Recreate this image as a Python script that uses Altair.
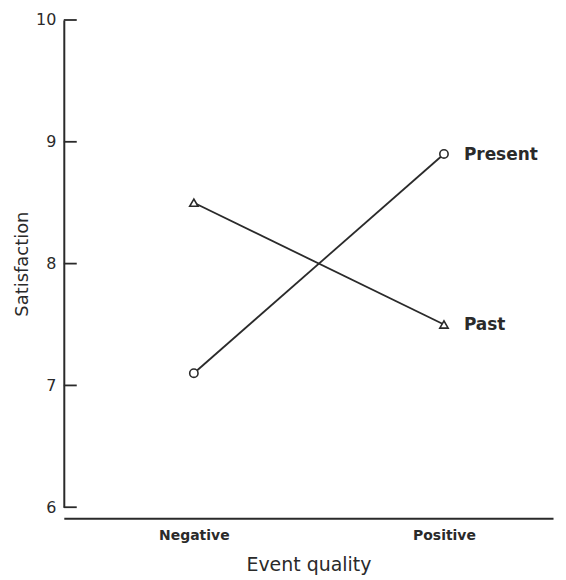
import altair as alt
import pandas as pd

categories = ["Negative", "Positive"]
present = [7.1, 8.9]
past = [8.5, 7.5]
series_names = ["Present", "Past"]
y_ticks = [6, 7, 8, 9, 10]

rows = []
for name, vals in zip(series_names, [present, past]):
    for i, (c, v) in enumerate(zip(categories, vals)):
        rows.append({"quality": c, "idx": i, "satisfaction": v, "series": name})
df = pd.DataFrame(rows)
ticks_df = pd.DataFrame({"t": y_ticks})

FONT = "DejaVu Sans"
INK = "#2a2a2a"

label_expr = " : ".join(
    [f"datum.value == {i} ? '{c}'" for i, c in enumerate(categories[:-1])] + [f"'{categories[-1]}'"]
)

xscale = alt.Scale(domain=[-0.52, 1.436], nice=False, zero=False)
yscale = alt.Scale(domain=[6, 10], nice=False, zero=False)

x_enc = alt.X("idx:Q", scale=xscale,
              axis=alt.Axis(title="Event quality", values=list(range(len(categories))),
                            labelExpr=label_expr, labelAngle=0, ticks=False, grid=False,
                            offset=11, labelPadding=10, titlePadding=14,
                            labelFontSize=14, labelFontWeight="bold",
                            titleFontSize=19, titleFontWeight="normal",
                            domainColor=INK, domainWidth=2,
                            labelColor=INK, titleColor=INK,
                            labelFont=FONT, titleFont=FONT))
y_enc = alt.Y("satisfaction:Q", scale=yscale,
              axis=alt.Axis(title="Satisfaction", values=y_ticks, ticks=False, format="d",
                            labelPadding=8, titlePadding=4,
                            labelFontSize=16, titleFontSize=18,
                            titleFontWeight="normal",
                            domainColor=INK, domainWidth=2,
                            labelColor=INK, titleColor=INK,
                            labelFont=FONT, titleFont=FONT, grid=False))

base = alt.Chart(df)

lines = base.mark_line(color=INK, strokeWidth=1.8).encode(
    x=x_enc, y=y_enc, detail="series:N")

pts = base.mark_point(filled=True, fill="white", stroke=INK, strokeWidth=1.6, size=70, opacity=1).encode(
    x="idx:Q", y="satisfaction:Q",
    shape=alt.Shape("series:N", scale=alt.Scale(domain=series_names, range=["circle", "triangle-up"]), legend=None))

labels = base.transform_filter(alt.datum.idx == len(categories) - 1).mark_text(
    align="left", baseline="middle", dx=20, dy=1, fontSize=17, font=FONT, color=INK, fontWeight="bold"
).encode(x="idx:Q", y="satisfaction:Q", text="series:N")

ticks = alt.Chart(ticks_df).mark_rule(color=INK, strokeWidth=1.8).encode(
    x=alt.value(0), x2=alt.value(13), y=alt.Y("t:Q", scale=yscale))

chart = alt.layer(lines, ticks, pts, labels).properties(
    width=491, height=489,
    autosize=alt.AutoSizeParams(type="none"),
    padding={"left": 56, "top": 11, "right": 5, "bottom": 72},
).configure(background="white").configure_view(stroke=None)

chart.save("out.html", embed_options={"renderer": "svg", "actions": False})
